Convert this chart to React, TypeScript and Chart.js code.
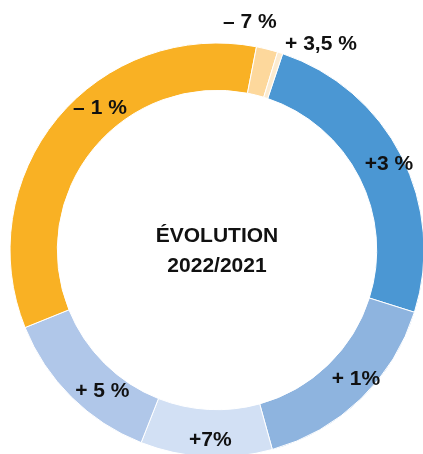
import React, { useEffect, useRef } from "react";
import { Chart, registerables } from "chart.js";

Chart.register(...registerables);

// Segment shares (clockwise, starting from the blue segment)
const categories = ["+3 %", "+ 1%", "+7%", "+ 5 %", "– 1 %", "– 7 %", "+ 3,5 %"];
const shares = [89, 57, 37, 46.5, 123, 6, 1.5];
const segmentLabels = ["+3 %", "+ 1%", "+7%", "+ 5 %", "– 1 %", "– 7 %", "+ 3,5 %"];
const colors = ["#4B97D3", "#8EB4DF", "#D2E0F4", "#B0C7E9", "#F9B124", "#FDD89C", "#FCEBD0"];
const centerLines = ["ÉVOLUTION", "2022/2021"];

// label placement tweaks (degrees shift from arc middle, radius in px)
const labelShift = [0.6, -3, -1, -5.7, 11, -5.8, 9];
const labelRadius = [192, 190, 190, 182, 184, 230, 231];

const FONT = "'Liberation Sans', Arial, Helvetica, sans-serif";

const labelPlugin = {
  id: "segLabels",
  afterDatasetsDraw(chart: any) {
    const ctx = chart.ctx;
    const meta = chart.getDatasetMeta(0);
    ctx.save();
    ctx.fillStyle = "#111";
    ctx.textAlign = "center";
    ctx.textBaseline = "middle";
    ctx.font = `bold 21px ${FONT}`;
    let cx = 0, cy = 0;
    meta.data.forEach((arc: any, i: number) => {
      const p = arc.getProps(["x", "y", "startAngle", "endAngle"], true);
      cx = p.x; cy = p.y;
      const a = (p.startAngle + p.endAngle) / 2 + (labelShift[i] * Math.PI) / 180;
      const r = labelRadius[i];
      ctx.fillText(segmentLabels[i], p.x + r * Math.cos(a), p.y + r * Math.sin(a));
    });
    ctx.font = `bold 21px ${FONT}`;
    ctx.fillText(centerLines[0], cx, cy - 14);
    ctx.fillText(centerLines[1], cx, cy + 16);
    ctx.restore();
  },
};

export default function App() {
  const ref = useRef<HTMLCanvasElement>(null);
  useEffect(() => {
    if (!ref.current) return;
    const chart = new Chart(ref.current, {
      type: "doughnut",
      data: {
        labels: categories,
        datasets: [
          {
            data: shares,
            backgroundColor: colors,
            borderColor: "#ffffff",
            borderWidth: 1,
          },
        ],
      },
      options: {
        responsive: false,
        maintainAspectRatio: false,
        animation: false,
        rotation: 18.5,
        radius: 207,
        cutout: 157,
        layout: { padding: { left: 11, top: 46, right: 0, bottom: 0 } },
        plugins: {
          legend: { display: false },
          tooltip: { enabled: false },
        },
      },
      plugins: [labelPlugin],
    });
    return () => chart.destroy();
  }, []);
  return (
    <div style={{ position: "fixed", left: 0, top: 0, width: 423, height: 454, overflow: "hidden", background: "#fff" }}>
      <canvas ref={ref} width={423} height={454} style={{ display: "block" }} />
    </div>
  );
}
